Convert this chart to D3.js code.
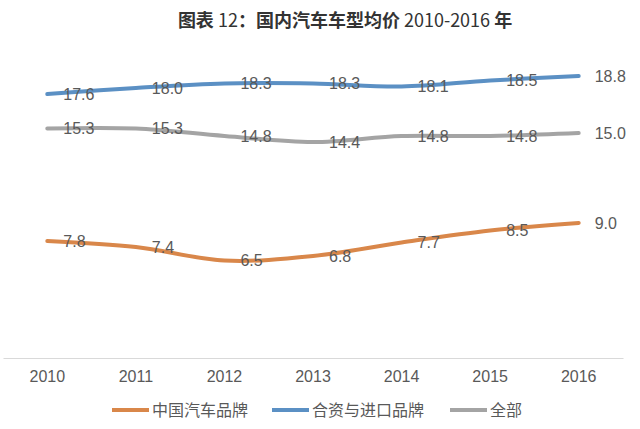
<!DOCTYPE html>
<html><head><meta charset="utf-8">
<script src="https://cdn.jsdelivr.net/npm/d3@7/dist/d3.min.js"></script>
<style>body{margin:0;background:#fff}svg{display:block}</style>
</head><body>
<svg id="c" width="640" height="429"></svg>
<script>
const years = ["2010","2011","2012","2013","2014","2015","2016"];
const seriesNames = ["中国汽车品牌","合资与进口品牌","全部"];
const domestic = [7.8, 7.4, 6.5, 6.8, 7.7, 8.5, 9.0];
const jointImport = [17.6, 18.0, 18.3, 18.3, 18.1, 18.5, 18.8];
const overall = [15.3, 15.3, 14.8, 14.4, 14.8, 14.8, 15.0];
const colors = ["#d9874a", "#5b90c4", "#a4a4a4"];
const seriesData = [domestic, jointImport, overall];

const svg = d3.select("#c");
const font = "'Liberation Sans','Noto Sans CJK SC',sans-serif";

const x = d3.scaleBand().domain(years).range([3, 623]).padding(0);
const y = d3.scaleLinear().domain([0, 20]).range([358, 58]);

// title
const title = svg.append("text").attr("x", 345).attr("y", 27).attr("text-anchor", "middle")
  .attr("font-family", "'Noto Sans CJK SC',sans-serif").attr("font-size", 18).attr("fill", "#333");
title.append("tspan").attr("font-weight", "bold").text("图表");
title.append("tspan").attr("font-weight", "normal").text(" 12");
title.append("tspan").attr("font-weight", "bold").text("：国内汽车车型均价");
title.append("tspan").attr("font-weight", "normal").text(" 2010-2016 ");
title.append("tspan").attr("font-weight", "bold").text("年");

// x axis
const xAxis = svg.append("g").attr("transform", "translate(0,358)")
  .call(d3.axisBottom(x).tickSize(0).tickPadding(13));
xAxis.select(".domain").attr("stroke", "#d9d9d9").attr("stroke-width", 1);
xAxis.selectAll("text").attr("font-family", font).attr("font-size", 16).attr("fill", "#595959");

const cx = d => x(d) + x.bandwidth() / 2;
const line = d3.line().x((d, i) => cx(years[i])).y(d => y(d)).curve(d3.curveCatmullRom.alpha(0.5));

seriesData.forEach((vals, si) => {
  svg.append("path").datum(vals).attr("d", line).attr("fill", "none")
    .attr("stroke", colors[si]).attr("stroke-width", 4).attr("stroke-linecap", "round");
});
seriesData.forEach((vals, si) => {
  svg.append("g").selectAll("text").data(vals).join("text")
    .attr("x", (d, i) => cx(years[i]) + 16).attr("y", d => y(d))
    .attr("dy", "0.35em").attr("font-family", font).attr("font-size", 16)
    .attr("fill", "#595959").text(d => d.toFixed(1));
});

// legend
const legendX = [112, 272, 450];
seriesNames.forEach((n, i) => {
  const g = svg.append("g").attr("transform", `translate(${legendX[i]},410)`);
  g.append("line").attr("x1", 0).attr("x2", 37).attr("stroke", colors[i]).attr("stroke-width", 4);
  g.append("text").attr("x", 40).attr("dy", "0.35em").attr("font-family", "'Noto Sans CJK SC',sans-serif")
    .attr("font-size", 16).attr("fill", "#595959").text(n);
});
</script>
</body></html>
